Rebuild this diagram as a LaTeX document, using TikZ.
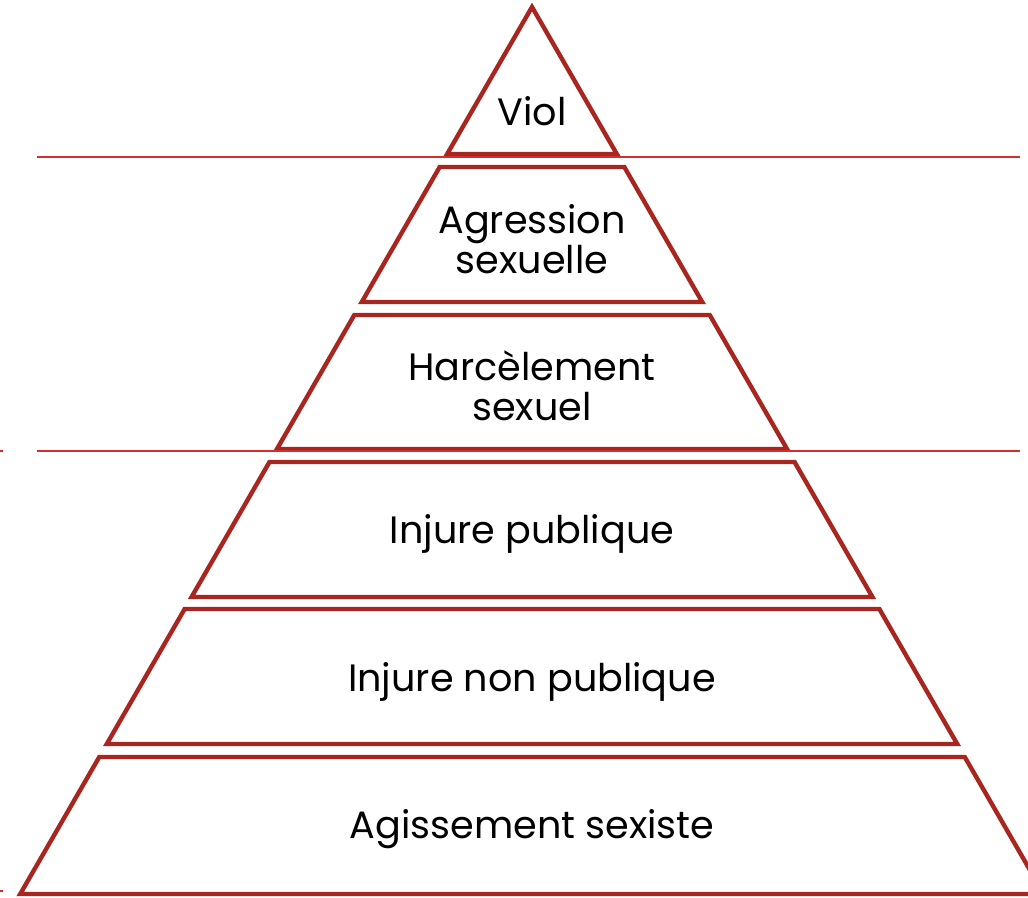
\documentclass[tikz,border=0pt]{standalone}
\usepackage{fontspec}
\setmainfont{Poppins}
\definecolor{pyrred}{RGB}{168,38,32}
\definecolor{rulered}{RGB}{214,44,44}
\tikzset{
  level/.style={draw=pyrred, line width=3.3pt, line join=miter},
  levellabel/.style={align=center, font=\fontsize{28.6}{30}\selectfont, text=black, inner sep=0pt},
  divider/.style={draw=rulered, line width=1.1pt}
}
% apex and side slope of the pyramid (pixels)
\newcommand{\pyrx}{532}
\newcommand{\pyry}{7}
\newcommand{\pyrslope}{0.577}
\begin{document}
\begin{tikzpicture}[x=0.75pt,y=-0.75pt]
\useasboundingbox (0,0) rectangle (1028,897);
% top level
\draw[level] (\pyrx,\pyry) -- ({\pyrx+\pyrslope*(154-\pyry)},154) -- ({\pyrx-\pyrslope*(154-\pyry)},154) -- cycle;
\node[levellabel] (viol) at (\pyrx,111) {Viol};
% lower levels
\foreach \t/\b/\ly/\nm/\txt in {
    167/302/239/agression/{Agression\\sexuelle},
    315/449/386/harcelement/{Harcèlement\\sexuel},
    462/597/534/publique/{Injure publique},
    609/744/682/nonpublique/{Injure non publique},
    757/894/829/agissement/{Agissement sexiste}}{
  \draw[level] ({\pyrx-\pyrslope*(\t-\pyry)},\t) -- ({\pyrx+\pyrslope*(\t-\pyry)},\t)
    -- ({\pyrx+\pyrslope*(\b-\pyry)},\b) -- ({\pyrx-\pyrslope*(\b-\pyry)},\b) -- cycle;
  \node[levellabel] (\nm) at (\pyrx,\ly) {\txt};
}
% dividers
\coordinate (d1l) at (37,157);
\coordinate (d1r) at (1020,157);
\coordinate (d2l) at (37,451);
\coordinate (d2r) at (1020,451);
\draw[divider] (d1l) -- (d1r);
\draw[divider] (d2l) -- (d2r);
\draw[divider] (0,451) -- (3,451);
\draw[divider] (0,891) -- (3,891);
\end{tikzpicture}
\end{document}
